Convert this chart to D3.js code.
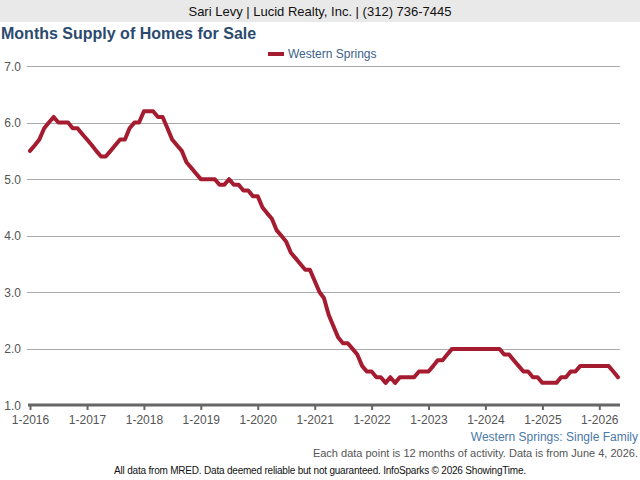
<!DOCTYPE html>
<html lang="en">
<head>
<meta charset="UTF-8">
<title>Months Supply of Homes for Sale</title>
<script src="https://d3js.org/d3.v7.min.js"></script>
<style>
    body { margin: 0; background: #fff; }
    svg { display: block; font-family: "Liberation Sans", Arial, sans-serif; }
    .grid line { stroke: #aaa; stroke-width: 1; shape-rendering: crispEdges; }
    .xaxis path, .xaxis line { stroke: #666; }
    .xaxis text, .yaxis text { fill: #555; font-size: 12px; }
    .series { fill: none; stroke: #a51c30; stroke-width: 4; stroke-linejoin: round; stroke-linecap: round; }
</style>
</head>
<body>
<svg width="640" height="480"></svg>
<script>
    // monthly values, Jan 2016 .. May 2026
    const startYear = 2016;
    const seriesName = "Western Springs";
    const supply = [
        5.5, 5.6, 5.7, 5.9, 6.0, 6.1, 6.0, 6.0, 6.0, 5.9, 5.9, 5.8,   // 2016
        5.7, 5.6, 5.5, 5.4, 5.4, 5.5, 5.6, 5.7, 5.7, 5.9, 6.0, 6.0,   // 2017
        6.2, 6.2, 6.2, 6.1, 6.1, 5.9, 5.7, 5.6, 5.5, 5.3, 5.2, 5.1,   // 2018
        5.0, 5.0, 5.0, 5.0, 4.9, 4.9, 5.0, 4.9, 4.9, 4.8, 4.8, 4.7,   // 2019
        4.7, 4.5, 4.4, 4.3, 4.1, 4.0, 3.9, 3.7, 3.6, 3.5, 3.4, 3.4,   // 2020
        3.2, 3.0, 2.9, 2.6, 2.4, 2.2, 2.1, 2.1, 2.0, 1.9, 1.7, 1.6,   // 2021
        1.6, 1.5, 1.5, 1.4, 1.5, 1.4, 1.5, 1.5, 1.5, 1.5, 1.6, 1.6,   // 2022
        1.6, 1.7, 1.8, 1.8, 1.9, 2.0, 2.0, 2.0, 2.0, 2.0, 2.0, 2.0,   // 2023
        2.0, 2.0, 2.0, 2.0, 1.9, 1.9, 1.8, 1.7, 1.6, 1.6, 1.5, 1.5,   // 2024
        1.4, 1.4, 1.4, 1.4, 1.5, 1.5, 1.6, 1.6, 1.7, 1.7, 1.7, 1.7,   // 2025
        1.7, 1.7, 1.7, 1.6, 1.5                                       // 2026
    ];
    const yTicks = [1, 2, 3, 4, 5, 6, 7];
    const xTickYears = d3.range(2016, 2027);

    const svg = d3.select("svg");

    // header band
    svg.append("rect").attr("x", 0).attr("y", 0).attr("width", 640).attr("height", 22).attr("fill", "#e9e9e9");
    svg.append("text").attr("x", 320).attr("y", 16).attr("text-anchor", "middle")
        .attr("font-size", "13px").attr("fill", "#111")
        .text("Sari Levy | Lucid Realty, Inc. | (312) 736-7445");

    svg.append("text").attr("x", 1).attr("y", 39).attr("font-size", "16px").attr("font-weight", "bold")
        .attr("fill", "#2b4a6f").text("Months Supply of Homes for Sale");

    // legend
    svg.append("rect").attr("x", 268).attr("y", 52).attr("width", 16).attr("height", 4).attr("fill", "#a51c30");
    svg.append("text").attr("x", 288).attr("y", 58).attr("font-size", "12px").attr("fill", "#3d5f8a").text(seriesName);

    const data = supply.map((v, i) => ({ date: new Date(startYear, i, 1), value: v }));

    const x = d3.scaleTime()
        .domain([data[0].date, data[data.length - 1].date])
        .range([30, 618]);
    const y = d3.scaleLinear().domain([1, 7]).range([405.5, 66]);

    // gridlines
    svg.append("g").attr("class", "grid")
        .selectAll("line").data(yTicks.slice(1)).join("line")
        .attr("x1", 27).attr("x2", 620)
        .attr("y1", d => Math.round(y(d)) + 0.5).attr("y2", d => Math.round(y(d)) + 0.5);

    // y labels
    svg.append("g").attr("class", "yaxis")
        .selectAll("text").data(yTicks).join("text")
        .attr("x", 21).attr("y", d => y(d) + 4.5).attr("text-anchor", "end")
        .attr("fill", "#666").text(d => d.toFixed(1));

    // x axis
    const xAxis = svg.append("g").attr("class", "xaxis")
        .attr("transform", "translate(0,405)")
        .call(d3.axisBottom(x)
            .tickValues(xTickYears.map(yr => new Date(yr, 0, 1)))
            .tickFormat(d => "1-" + d.getFullYear())
            .tickSize(5)
            .tickSizeOuter(0)
            .tickPadding(5));
    xAxis.select(".domain").attr("d", "M28,0H620").attr("stroke-width", 3);
    xAxis.selectAll(".tick line").attr("stroke-width", 2);
    xAxis.selectAll(".tick text").attr("fill", "#555").attr("font-size", "12px").attr("font-family", null);

    const line = d3.line().x(d => x(d.date)).y(d => y(d.value));
    svg.append("path").datum(data).attr("class", "series").attr("d", line);

    // footer
    svg.append("text").attr("x", 638).attr("y", 441).attr("text-anchor", "end")
        .attr("font-size", "12px").attr("fill", "#4a78a8").text("Western Springs: Single Family");
    svg.append("text").attr("x", 638).attr("y", 457).attr("text-anchor", "end")
        .attr("font-size", "11px").attr("fill", "#555")
        .text("Each data point is 12 months of activity. Data is from June 4, 2026.");
    svg.append("text").attr("x", 320).attr("y", 474).attr("text-anchor", "middle")
        .attr("font-size", "10px").attr("fill", "#111").attr("letter-spacing", "-0.2px")
        .text("All data from MRED. Data deemed reliable but not guaranteed. InfoSparks \u00a9 2026 ShowingTime.");
</script>
</body>
</html>
